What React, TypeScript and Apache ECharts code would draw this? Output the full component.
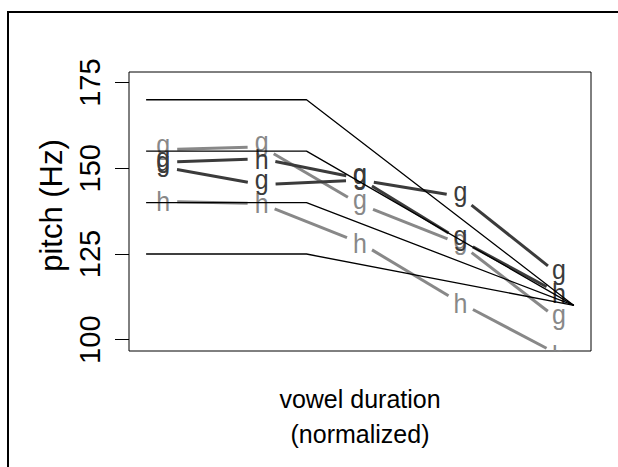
import React, { useEffect, useRef } from "react";
import * as echarts from "echarts";

// x positions (normalized vowel duration) of the plotted letters
const xPositions = [0.04, 0.27, 0.5, 0.735, 0.965];

// reference (target) contours
const guideX = [0, 0.375, 1];
const guide170 = [170, 170, 110];
const guide155 = [155, 155, 110];
const guide140 = [140, 140, 110];
const guide125 = [125, 125, 110];

// observed contours
const lightG = [155.4, 156.3, 139.5, 127.9, 105.8];
const lightGLetters = ["g", "g", "g", "g", "g"];
const lightH = [140.3, 139.7, 128.3, 110.7, 95.6];
const lightHLetters = ["h", "h", "h", "h", "h"];
const darkA = [151.8, 152.8, 147.0, 129.0, 113.5];
const darkALetters = ["g", "h", "g", "g", "h"];
const darkB = [150.4, 145.2, 146.6, 141.8, 119.0];
const darkBLetters = ["g", "g", "g", "g", "g"];

const yTicks = [100, 125, 150, 175];

const FONT = '"Liberation Sans", Arial, Helvetica, sans-serif';
const FS = 25;
const SY = 1.1;
const GAP = 14;
const DARK = "#3b3b3b";
const LIGHT = "#888888";

function guideSeries(ys: number[]) {
  return {
    type: "line",
    data: guideX.map((x, i) => [x, ys[i]]),
    symbol: "none",
    clip: true,
    silent: true,
    lineStyle: { color: "#000", width: 1.3 },
  };
}

function letterSeries(ys: number[], letters: string[], color: string) {
  return {
    type: "custom",
    clip: true,
    silent: true,
    data: xPositions.map((x, i) => [x, ys[i]]),
    encode: { x: 0, y: 1 },
    renderItem: (params: any, api: any) => {
      const i = params.dataIndex;
      const p = api.coord([api.value(0), api.value(1)]);
      const children: any[] = [];
      if (i < xPositions.length - 1) {
        const q = api.coord([xPositions[i + 1], ys[i + 1]]);
        const dx = q[0] - p[0];
        const dy = q[1] - p[1];
        const d = Math.hypot(dx, dy);
        if (d > 2 * GAP) {
          const f = GAP / d;
          children.push({
            type: "line",
            shape: {
              x1: p[0] + dx * f,
              y1: p[1] + dy * f,
              x2: q[0] - dx * f,
              y2: q[1] - dy * f,
            },
            style: { stroke: color, lineWidth: 3 },
          });
        }
      }
      const ch = letters[i];
      const off = (ch === "g" ? -0.18 * FS : 0.015 * FS) * SY;
      children.push({
        type: "text",
        x: p[0],
        y: p[1] + off,
        scaleY: SY,
        style: {
          text: ch,
          fill: color,
          font: `${FS}px ${FONT}`,
          align: "center",
          verticalAlign: "middle",
        },
      });
      return { type: "group", children };
    },
  };
}

export default function App() {
  const ref = useRef<HTMLDivElement>(null);
  useEffect(() => {
    document.body.style.margin = "0";
    const chart = echarts.init(ref.current!, null, { renderer: "svg" });
    chart.setOption({
      animation: false,
      backgroundColor: "#fff",
      textStyle: { fontFamily: FONT },
      graphic: [
        {
          type: "rect",
          shape: { x: 8, y: 12, width: 700, height: 600 },
          style: { fill: "none", stroke: "#000", lineWidth: 2 },
          silent: true,
        },
      ],
      grid: {
        left: 129,
        right: 27,
        top: 72,
        bottom: 116,
        show: true,
        borderColor: "#000",
        borderWidth: 1,
        backgroundColor: "transparent",
      },
      xAxis: {
        type: "value",
        min: -0.04,
        max: 1.04,
        axisLine: { show: false, onZero: false },
        axisTick: { show: false },
        axisLabel: { show: false },
        splitLine: { show: false },
        name: "vowel duration\n(normalized)",
        nameLocation: "middle",
        nameGap: 30,
        nameTextStyle: {
          fontSize: 25,
          lineHeight: 35,
          color: "#000",
          fontFamily: FONT,
        },
      },
      yAxis: {
        type: "value",
        min: 96.7,
        max: 178.1,
        axisLine: { show: false, onZero: false },
        splitLine: { show: false },
        axisTick: {
          show: true,
          inside: false,
          length: 14,
          customValues: yTicks,
          lineStyle: { color: "#000", width: 1 },
        },
        axisLabel: {
          show: true,
          rotate: 90,
          margin: 25,
          fontSize: 29,
          color: "#000",
          fontFamily: FONT,
          customValues: yTicks,
        },
        name: "pitch (Hz)",
        nameLocation: "middle",
        nameGap: 58,
        nameTextStyle: {
          fontSize: 31,
          color: "#000",
          fontFamily: FONT,
          padding: [0, 0, 0, 12],
        },
      },
      series: [
        guideSeries(guide170),
        guideSeries(guide155),
        guideSeries(guide140),
        guideSeries(guide125),
        letterSeries(lightG, lightGLetters, LIGHT),
        letterSeries(lightH, lightHLetters, LIGHT),
        letterSeries(darkA, darkALetters, DARK),
        letterSeries(darkB, darkBLetters, DARK),
      ],
    });
    return () => chart.dispose();
  }, []);
  return <div ref={ref} style={{ width: 618, height: 467 }} />;
}
